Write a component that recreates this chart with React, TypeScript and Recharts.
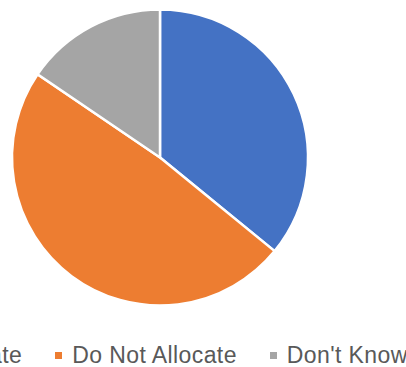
import React from 'react';
import { PieChart, Pie, Cell, Legend } from 'recharts';

const LABELS = ['Allocate', 'Do Not Allocate', "Don't Know"];
const VALUES = [35.9, 48.6, 15.5];
const COLORS = ['#4472C4', '#ED7D31', '#A5A5A5'];

const data = LABELS.map((name, i) => ({ name, value: VALUES[i] }));

const CHART_W = 600;
const CHART_H = 367;

const renderLegend = (props: any) => {
  const { payload } = props;
  return (
    <div style={{ display: 'flex', justifyContent: 'center', alignItems: 'center' }}>
      {payload.map((entry: any, index: number) => (
        <div key={`item-${index}`} style={{ display: 'flex', alignItems: 'center', marginRight: index < payload.length - 1 ? 33 : 0 }}>
          <span style={{ display: 'inline-block', width: 7, height: 7, background: entry.color, marginRight: 10 }} />
          <span style={{ color: '#595959', fontSize: 23, letterSpacing: 0.4, lineHeight: '26px' }}>{entry.value}</span>
        </div>
      ))}
    </div>
  );
};

const App: React.FC = () => {
  return (
    <div style={{ position: 'fixed', left: 0, top: 0, width: 406, height: 367, overflow: 'hidden', background: '#fff' }}>
      <div style={{ position: 'absolute', left: 160 - CHART_W / 2 + 4, top: 0, fontFamily: '"Liberation Sans", Arial, sans-serif' }}>
        <PieChart width={CHART_W} height={CHART_H} margin={{ top: 0, right: 0, bottom: 0, left: 0 }}>
          <Pie
            data={data}
            dataKey="value"
            nameKey="name"
            cx={CHART_W / 2 - 4}
            cy={157.5}
            outerRadius={148}
            startAngle={90}
            endAngle={-270}
            stroke="#ffffff"
            strokeWidth={2.5}
            isAnimationActive={false}
          >
            {data.map((entry, index) => (
              <Cell key={`cell-${index}`} fill={COLORS[index]} />
            ))}
          </Pie>
          <Legend
            verticalAlign="bottom"
            content={renderLegend}
            wrapperStyle={{ bottom: -1 }}
          />
        </PieChart>
      </div>
    </div>
  );
};

export default App;
